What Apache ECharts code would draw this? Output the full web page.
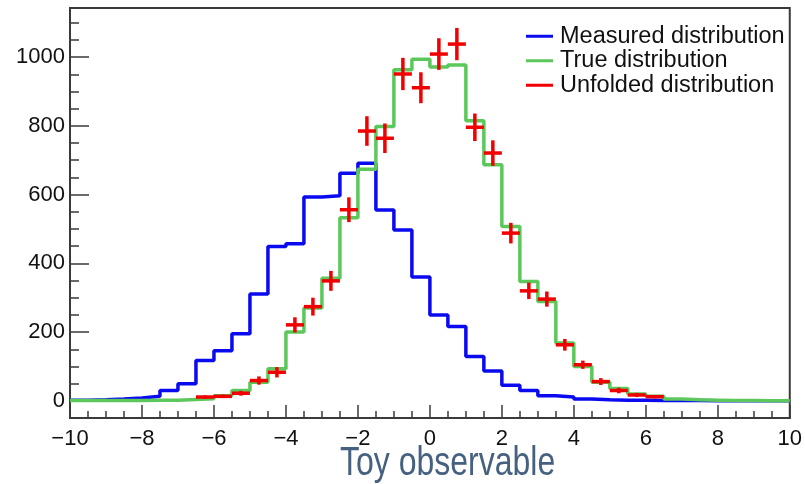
<!DOCTYPE html>
<html>
<head>
<meta charset="utf-8">
<script src="https://cdn.jsdelivr.net/npm/echarts@6/dist/echarts.min.js"></script>
<style>
  html, body { margin: 0; padding: 0; background: #fff; }
  #chart { width: 805px; height: 484px; }
</style>
</head>
<body>
<div id="chart"></div>
<script>
// 40 bins of width 0.5 from -10 to 10
var binLow = -10, binWidth = 0.5;

var measured = [2, 3, 5, 8, 13, 30, 50, 117, 146, 195,
                311, 449, 457, 593, 597, 662, 691, 555, 497, 360,
                250, 216, 129, 87, 45, 30, 15, 11, 5, 3,
                2, 2, 1, 1, 1, 0, 0, 0, 0, 0];

var truth = [1, 1, 1, 1, 2, 2, 4, 6, 15, 30,
             54, 93, 200, 270, 357, 533, 674, 798, 963, 994,
             971, 977, 815, 687, 507, 347, 289, 168, 100, 54,
             36, 20, 13, 5, 3, 2, 1, 1, 0, 0];

// unfolded points: bin index, value, error
var unfoldedBin = [7, 8, 9, 10, 11, 12, 13, 14, 15, 16, 17, 18, 19,
                   20, 21, 22, 23, 24, 25, 26, 27, 28, 29, 30, 31, 32];
var unfoldedVal = [11, 13, 22, 59, 83, 221, 274, 349, 556, 785, 764, 951, 911,
                   1009, 1038, 796, 721, 488, 320, 296, 163, 105, 56, 30, 17, 12];
var unfoldedErr = [5, 5, 7, 12, 15, 22, 26, 29, 36, 43, 43, 47, 45,
                   46, 47, 40, 37, 30, 24, 22, 17, 12, 10, 8, 6, 5];

var yMajor = [0, 200, 400, 600, 800, 1000];
var yMinor = [-50, 0, 50, 100, 150, 200, 250, 300, 350, 400, 450, 500, 550,
              600, 650, 700, 750, 800, 850, 900, 950, 1000, 1050, 1100];

function histLine(vals) {
    var pts = [];
    for (var i = 0; i < vals.length; i++) {
        pts.push([binLow + i * binWidth, vals[i]]);
    }
    pts.push([binLow + vals.length * binWidth, vals[vals.length - 1]]);
    return pts;
}

var unfoldedData = unfoldedBin.map(function (b, i) {
    return [binLow + (b + 0.5) * binWidth, unfoldedVal[i], unfoldedErr[i]];
});

var axisColor = '#3a3a3a';
var fontFam = '"Liberation Sans", Arial, Helvetica, sans-serif';

var myChart = echarts.init(document.getElementById('chart'));

var option = {
    animation: false,
    backgroundColor: '#fff',
    grid: {
        left: 70, right: 10, top: 8, bottom: 66,
        show: true, borderColor: axisColor, borderWidth: 2
    },
    legend: {
        orient: 'vertical',
        left: 521, top: 19,
        itemWidth: 27, itemHeight: 3,
        itemGap: 0,
        icon: 'rect',
        textStyle: { fontFamily: fontFam, fontSize: 23.5, color: '#111', lineHeight: 24.5, padding: [0, 0, 0, 2] },
        data: ['Measured distribution', 'True distribution', 'Unfolded distribution']
    },
    xAxis: {
        type: 'value',
        min: -10, max: 10, interval: 2,
        axisLine: { onZero: false, lineStyle: { color: axisColor, width: 2 } },
        axisTick: { inside: true, length: 13, lineStyle: { color: axisColor, width: 1.5 } },
        minorTick: { show: true, splitNumber: 4, length: 7, lineStyle: { color: axisColor, width: 1.5 } },
        splitLine: { show: false },
        axisLabel: {
            margin: 10, fontFamily: fontFam, fontSize: 22, color: '#111',
            formatter: function (v) { return String(v).replace('-', '\u2212'); }
        }
    },
    yAxis: [{
        type: 'value',
        min: -50, max: 1143,
        axisLine: { onZero: false, lineStyle: { color: axisColor, width: 2 } },
        axisTick: { inside: true, length: 19, customValues: yMajor, lineStyle: { color: axisColor, width: 1.5 } },
        splitLine: { show: false },
        axisLabel: {
            customValues: yMajor, margin: 5, fontFamily: fontFam, fontSize: 22, color: '#111',
            formatter: function (v) { return String(v); }
        }
    }, {
        type: 'value',
        min: -50, max: 1143,
        position: 'left',
        axisLine: { show: false, onZero: false },
        axisTick: { inside: true, length: 9, customValues: yMinor, lineStyle: { color: axisColor, width: 1.5 } },
        splitLine: { show: false },
        axisLabel: { show: false }
    }],
    series: [{
        name: 'Measured distribution',
        type: 'line',
        step: 'end',
        symbol: 'none',
        color: '#0a0af0',
        lineStyle: { color: '#0a0af0', width: 3.5 },
        data: histLine(measured),
        z: 2
    }, {
        name: 'True distribution',
        type: 'line',
        step: 'end',
        symbol: 'none',
        color: '#5cc85c',
        lineStyle: { color: '#5cc85c', width: 3.5 },
        data: histLine(truth),
        z: 3
    }, {
        name: 'Unfolded distribution',
        type: 'custom',
        color: '#f00000',
        itemStyle: { color: '#f00000' },
        z: 4,
        renderItem: function (params, api) {
            var x = api.value(0), y = api.value(1), e = api.value(2);
            var l = api.coord([x - binWidth / 2, y]);
            var r = api.coord([x + binWidth / 2, y]);
            var t = api.coord([x, y + e]);
            var b = api.coord([x, y - e]);
            var st = { stroke: '#f00000', lineWidth: 3.5 };
            return {
                type: 'group',
                children: [
                    { type: 'line', shape: { x1: l[0], y1: l[1], x2: r[0], y2: r[1] }, style: st },
                    { type: 'line', shape: { x1: t[0], y1: t[1], x2: b[0], y2: b[1] }, style: st }
                ]
            };
        },
        data: unfoldedData
    }],
    graphic: [{
        type: 'text',
        x: 340, y: 444,
        scaleX: 0.8,
        style: {
            text: 'Toy observable',
            fontFamily: fontFam,
            fontSize: 40,
            fill: '#46617f'
        }
    }]
};

myChart.setOption(option);
</script>
</body>
</html>
